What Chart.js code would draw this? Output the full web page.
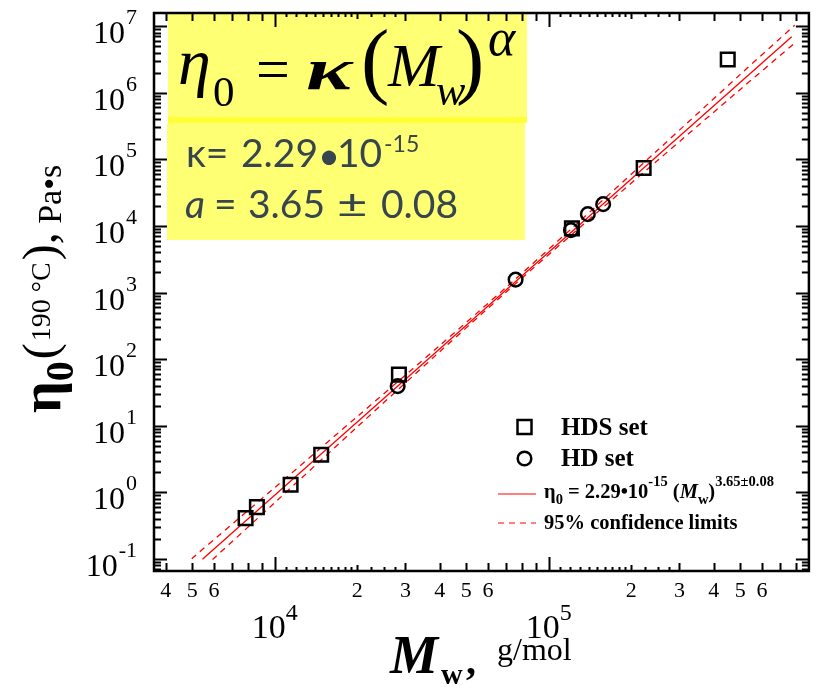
<!DOCTYPE html>
<html>
<head>
<meta charset="utf-8">
<script src="https://cdn.jsdelivr.net/npm/chart.js@4.4.0/dist/chart.umd.min.js"></script>
<style>
html, body { margin: 0; padding: 0; background: #fff; }
#wrap { position: relative; width: 821px; height: 689px; }
</style>
</head>
<body>
<div id="wrap"><canvas id="visc-chart" width="821" height="689"></canvas></div>
<script>
// HDS set (squares)
const hdsMw  = [7830, 8610, 11430, 14780, 28400, 121500, 222000, 450000];
const hdsEta = [0.41, 0.60, 1.30, 3.68, 58.5, 9170, 73800, 3.14e6];
// HD set (circles)
const hdMw  = [28100, 75700, 120500, 138900, 158000];
const hdEta = [39.3, 1563, 8650, 15000, 21200];
const fitMw  = [5450, 770000];
const fitEta = [0.099, 6.9e6];
// 95% confidence limits
const upperMw  = [4980, 10000, 20000, 40000, 70000, 125000, 250000, 500000, 790000];
const upperEta = [0.101, 1.18, 13.7, 160, 1200, 10250, 138000, 1.88e6, 1.03e7];
const lowerMw  = [5930, 10000, 20000, 40000, 70000, 125000, 250000, 500000, 800000];
const lowerEta = [0.098, 0.70, 9.6, 129, 1020, 8260, 96600, 1.12e6, 5.8e6];
// tick labels
const xTickValues = [4e3, 5e3, 6e3, 2e4, 3e4, 4e4, 5e4, 6e4, 2e5, 3e5, 4e5, 5e5, 6e5];
const xTickLabels = ['4', '5', '6', '2', '3', '4', '5', '6', '2', '3', '4', '5', '6'];
const xDecades = [4, 5];
const yDecades = [-1, 0, 1, 2, 3, 4, 5, 6, 7];

const SERIF = '"Liberation Serif", "Times New Roman", serif';
const SANS = 'Lato, "Open Sans", "Noto Sans", sans-serif';

function _pts(xs, ys) {
    return xs.map((x, i) => ({x: x, y: ys[i]}));
}

function drawRuns(ctx, x, y, runs) {
    runs.forEach(r => {
        ctx.font = r[1];
        const dx = r[3] || 0;
        ctx.fillText(r[0], x + dx, y + (r[2] || 0));
        x += dx + ctx.measureText(r[0]).width;
    });
    return x;
}

// all tick marks for the log x axis: [value, length]
function _xTicks(min, max) {
    const out = [];
    [1e3, 1e4, 1e5].forEach(b => {
        out.push([b, 14]);
        if (b >= 1e4) {
            [1.1, 1.2, 1.3, 1.4, 1.5, 1.6, 1.7, 1.8, 1.9, 2.25, 2.5, 2.75].forEach(m => out.push([m * b, 4]));
            out.push([2 * b, 6]);
            for (let m = 3; m <= 9; m++) out.push([m * b, 8]);
        } else {
            for (let m = 2; m <= 9; m++) out.push([m * b, 8]);
        }
    });
    return out.filter(t => t[0] >= min && t[0] <= max);
}

function _yTicks(min, max) {
    const out = [];
    for (let n = -2; n <= 7; n++) {
        const b = Math.pow(10, n);
        out.push([b, 13]);
        for (let m = 2; m <= 9; m++) out.push([m * b, 7]);
    }
    return out.filter(t => t[0] >= min && t[0] <= max);
}

const boxPlugin = {
    id: 'formulaBox',
    beforeDatasetsDraw(chart) {
        const ctx = chart.ctx;
        ctx.save();
        ctx.fillStyle = '#ffff73';
        ctx.fillRect(168, 13, 359, 104);
        ctx.fillRect(167, 123, 358, 117);
        ctx.fillStyle = '#ffff38';
        ctx.fillRect(168, 117, 359, 6);

        ctx.fillStyle = '#000';
        ctx.textBaseline = 'alphabetic';
        ctx.textAlign = 'left';
        ctx.font = 'italic 66px ' + SERIF;
        ctx.fillText('η', 178, 84);
        ctx.font = '43px ' + SERIF;
        ctx.fillText('0', 213, 106);
        ctx.font = '60px ' + SERIF;
        ctx.fillText('=', 256, 89);
        // the kappa of the original is a wide symbol glyph
        ctx.save();
        ctx.translate(306, 89);
        ctx.scale(1.45, 1);
        ctx.font = 'italic bold 60px ' + SERIF;
        ctx.fillText('κ', 0, 0);
        ctx.restore();
        ctx.font = '85px ' + SERIF;
        ctx.fillText('(', 361, 88);
        ctx.fillText(')', 456, 88);
        ctx.font = 'italic 62px ' + SERIF;
        ctx.fillText('M', 388, 86);
        ctx.font = 'italic 44px ' + SERIF;
        ctx.fillText('w', 436, 105);
        ctx.font = 'italic 52px ' + SERIF;
        ctx.fillText('α', 488, 55);

        ctx.fillStyle = '#37464e';
        ctx.font = '39px ' + SANS;
        ctx.fillText('κ=', 186, 167);
        ctx.fillText('2.29', 241, 167);
        ctx.fillText('10', 337, 167);
        ctx.font = '38px ' + SANS;
        ctx.fillText('•', 318, 169);
        ctx.font = '23px ' + SANS;
        ctx.fillText('-15', 384, 152);
        ctx.font = 'italic 39px ' + SANS;
        ctx.fillText('a', 185, 218);
        ctx.font = '39px ' + SANS;
        ctx.fillText('=', 214, 218);
        ctx.fillText('3.65', 248, 218);
        ctx.fillText('0.08', 381, 218);
        ctx.save();
        ctx.translate(337, 218);
        ctx.scale(1.35, 1);
        ctx.fillText('±', 0, 0);
        ctx.restore();
        ctx.restore();
    }
};

const framePlugin = {
    id: 'frameTicks',
    afterDraw(chart) {
        const ctx = chart.ctx;
        const xs = chart.scales.x, ys = chart.scales.y;
        const a = chart.chartArea;
        ctx.save();
        ctx.strokeStyle = '#000';
        ctx.fillStyle = '#000';
        ctx.lineWidth = 2;
        ctx.beginPath();
        _xTicks(xs.min, xs.max).forEach(t => {
            const px = Math.round(xs.getPixelForValue(t[0])) + 0.5;
            ctx.moveTo(px, a.bottom); ctx.lineTo(px, a.bottom - t[1]);
            ctx.moveTo(px, a.top); ctx.lineTo(px, a.top + t[1]);
        });
        _yTicks(ys.min, ys.max).forEach(t => {
            const py = Math.round(ys.getPixelForValue(t[0])) + 0.5;
            ctx.moveTo(a.left, py); ctx.lineTo(a.left + t[1], py);
            ctx.moveTo(a.right, py); ctx.lineTo(a.right - t[1], py);
        });
        ctx.stroke();
        ctx.lineWidth = 2.5;
        ctx.strokeRect(a.left, a.top, a.right - a.left, a.bottom - a.top);

        // x tick labels
        ctx.textBaseline = 'alphabetic';
        ctx.textAlign = 'center';
        ctx.font = '22px ' + SERIF;
        xTickValues.forEach((v, i) => {
            ctx.fillText(xTickLabels[i], xs.getPixelForValue(v), 597);
        });
        ctx.textAlign = 'left';
        xDecades.forEach(n => {
            const px = xs.getPixelForValue(Math.pow(10, n));
            ctx.font = '34px ' + SERIF;
            const w10 = ctx.measureText('10').width;
            ctx.font = '24px ' + SERIF;
            const ws = ctx.measureText(String(n)).width;
            const x0 = px - (w10 + ws) / 2;
            ctx.font = '34px ' + SERIF;
            ctx.fillText('10', x0, 638);
            ctx.font = '24px ' + SERIF;
            ctx.fillText(String(n), x0 + w10, 620);
        });
        // y tick labels
        yDecades.forEach(n => {
            const py = ys.getPixelForValue(Math.pow(10, n));
            ctx.font = '22px ' + SERIF;
            const sup = String(n);
            const ws = ctx.measureText(sup).width;
            ctx.fillText(sup, 137 - ws, py - 2);
            ctx.font = '32px ' + SERIF;
            const w10 = ctx.measureText('10').width;
            ctx.fillText('10', 137 - ws - 1 - w10, py + 17);
        });

        // x title
        ctx.font = 'italic bold 54px ' + SERIF;
        ctx.fillText('M', 390, 673);
        ctx.font = 'bold 30px ' + SERIF;
        ctx.fillText('w', 441, 684);
        ctx.font = 'bold 40px ' + SERIF;
        ctx.fillText(',', 466, 674);
        ctx.font = '32px ' + SERIF;
        ctx.fillText('g/mol', 497, 660);

        // y title
        ctx.save();
        ctx.translate(60, 413);
        ctx.rotate(-Math.PI / 2);
        drawRuns(ctx, 0, 0, [
            ['η', 'bold 56px ' + SERIF, 0],
            ['0', 'bold 40px ' + SERIF, 13],
            ['(', '48px ' + SERIF, -4, 2],
            ['190 °C', '28px ' + SERIF, -10, 2],
            [')', '48px ' + SERIF, -4, 2],
            [',', '48px ' + SERIF, -4],
            [' Pa•s', '34px ' + SERIF, 1]
        ]);
        ctx.restore();

        // legend
        ctx.lineWidth = 2.5;
        ctx.strokeRect(517.5, 420, 14, 14);
        ctx.beginPath();
        ctx.arc(524.5, 458.5, 6.8, 0, Math.PI * 2);
        ctx.stroke();
        ctx.font = 'bold 25px ' + SERIF;
        ctx.fillText('HDS set', 561, 435);
        ctx.fillText('HD set', 561, 466);

        ctx.strokeStyle = '#ff0000';
        ctx.lineWidth = 1.2;
        ctx.beginPath();
        ctx.moveTo(498, 494); ctx.lineTo(536, 494);
        ctx.stroke();
        ctx.setLineDash([6, 5]);
        ctx.beginPath();
        ctx.moveTo(498, 523); ctx.lineTo(536, 523);
        ctx.stroke();
        ctx.setLineDash([]);

        const B = 'bold 20.5px ' + SERIF, S = 'bold 14.5px ' + SERIF;
        drawRuns(ctx, 544, 498, [
            ['η', B],
            ['0', S, 6],
            [' = 2.29•10', B],
            ['-15', S, -12],
            [' (', B],
            ['M', 'italic bold 20.5px ' + SERIF],
            ['w', S, 6],
            [')', B],
            ['3.65±0.08', S, -12]
        ]);
        ctx.font = B;
        ctx.fillText('95% confidence limits', 544, 529);
        ctx.restore();
    }
};

new Chart(document.getElementById('visc-chart'), {
    type: 'scatter',
    data: {
        datasets: [{
            label: 'HDS set',
            data: _pts(hdsMw, hdsEta),
            pointStyle: 'rect',
            pointRadius: 9.6,
            borderColor: '#000',
            backgroundColor: 'rgba(0,0,0,0)',
            borderWidth: 2.5
        }, {
            label: 'HD set',
            data: _pts(hdMw, hdEta),
            pointStyle: 'circle',
            pointRadius: 6.8,
            borderColor: '#000',
            backgroundColor: 'rgba(0,0,0,0)',
            borderWidth: 2.5
        }, {
            label: 'fit',
            data: _pts(fitMw, fitEta),
            showLine: true,
            pointRadius: 0,
            borderColor: '#ff0000',
            borderWidth: 1.3
        }, {
            label: 'upper 95%',
            data: _pts(upperMw, upperEta),
            showLine: true,
            pointRadius: 0,
            borderColor: '#ff0000',
            borderWidth: 1.3,
            borderDash: [6, 5],
            tension: 0.3
        }, {
            label: 'lower 95%',
            data: _pts(lowerMw, lowerEta),
            showLine: true,
            pointRadius: 0,
            borderColor: '#ff0000',
            borderWidth: 1.3,
            borderDash: [6, 5],
            tension: 0.3
        }]
    },
    options: {
        responsive: false,
        animation: false,
        events: [],
        layout: { padding: { left: 154, top: 13, right: 5, bottom: 118 } },
        scales: {
            x: { type: 'logarithmic', min: 3627, max: 890000, display: false },
            y: { type: 'logarithmic', min: 0.066, max: 1.57e7, display: false }
        },
        plugins: {
            legend: { display: false },
            tooltip: { enabled: false }
        }
    },
    plugins: [boxPlugin, framePlugin]
});
</script>
</body>
</html>
